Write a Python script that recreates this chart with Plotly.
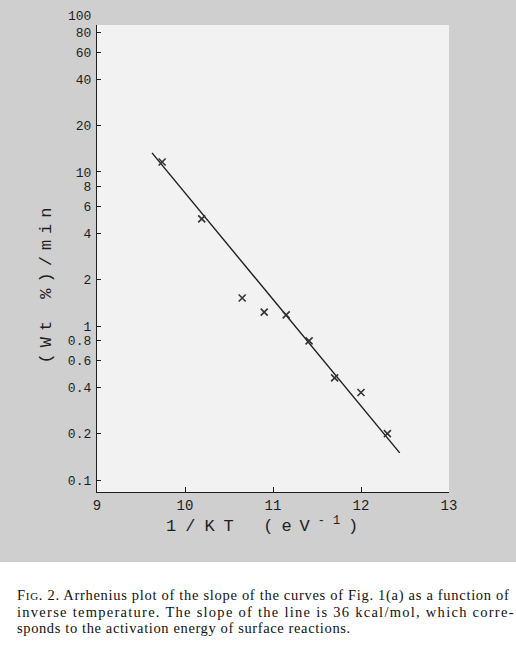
import plotly.graph_objects as go
import math

# ---- data ----
inv_kt = [9.74, 10.19, 10.65, 10.90, 11.15, 11.41, 11.70, 12.00, 12.30]
rate = [11.6, 4.96, 1.52, 1.23, 1.18, 0.80, 0.46, 0.37, 0.20]
fit_x = [9.625, 12.44]
fit_y = [13.3, 0.15]

y_tickvals = [0.1, 0.2, 0.4, 0.6, 0.8, 1, 2, 4, 6, 8, 10, 20, 40, 60, 80]
y_ticktext = ["0.1", "0.2", "0.4", "0.6", "0.8", "1", "2", "4", "6", "8", "10", "20", "40", "60", "80"]
x_tickvals = [9, 10, 11, 12, 13]
x_ticktext = ["9", "10", "11", "12", "13"]

caption_fig = "F"
caption_fig_sc = "IG"
caption_lines = [
    ". 2. Arrhenius plot of the slope of the curves of Fig. 1(a) as a function of",
    "inverse temperature. The slope of the line is 36 kcal/mol, which corre-",
    "sponds to the activation energy of surface reactions.",
]

W, H = 516, 649
L, R, T, B = 97, 449, 25, 492
pw, ph = R - L, B - T


def px(xp):
    return (xp - L) / pw


def py(yp):
    return (B - yp) / ph


ink = "#1e1e1e"
mono = "Liberation Mono"

fig = go.Figure()
fig.add_trace(go.Scatter(x=fit_x, y=fit_y, mode="lines",
                         line=dict(color=ink, width=1.4), hoverinfo="skip"))
fig.add_trace(go.Scatter(x=inv_kt, y=rate, mode="markers",
                         marker=dict(symbol="x-thin", size=7,
                                     line=dict(color="#333333", width=1.6))))

shapes = [
    dict(type="rect", xref="paper", yref="paper", x0=px(0), x1=px(W), y0=py(562), y1=py(0),
         fillcolor="#cfcfcf", line=dict(width=0), layer="below"),
    dict(type="rect", xref="paper", yref="paper", x0=0, x1=1, y0=0, y1=1,
         fillcolor="#f2f2f2", line=dict(width=0), layer="below"),
]

annotations = [
    dict(text="100", xref="paper", yref="paper", x=px(93), y=py(16), xanchor="right", yanchor="middle",
         showarrow=False, font=dict(family=mono, size=13, color=ink)),
    dict(text="<span style='letter-spacing:6px'>(Wt %)/min</span>", xref="paper", yref="paper",
         x=px(34), y=py(283), textangle=-90, showarrow=False,
         font=dict(family=mono, size=17, color=ink)),
    dict(text="<span style='letter-spacing:9px'>1/KT</span>  <span style='letter-spacing:8px'>(eV<sup>-1</sup>)</span>",
         xref="paper", yref="paper", x=px(266), y=py(538), showarrow=False,
         font=dict(family=mono, size=17, color=ink)),
]

spacings = [0.7, 1.27, 0.62]
for i, (line, yc, sp) in enumerate(zip(caption_lines, [595, 612, 628], spacings)):
    if i == 0:
        text = (f"<span style='letter-spacing:{sp}px'>{caption_fig}</span>"
                f"<span style='font-size:11px;letter-spacing:{sp}px'>{caption_fig_sc}</span>"
                f"<span style='letter-spacing:{sp}px'>{line}</span>")
    else:
        text = f"<span style='letter-spacing:{sp}px'>{line}</span>"
    annotations.append(dict(text=text, xref="paper", yref="paper", x=px(16), y=py(yc),
                            xanchor="left", yanchor="middle", showarrow=False, borderpad=0,
                            font=dict(family="Liberation Serif", size=14.5, color="#111111")))

fig.update_layout(
    width=W, height=H,
    margin=dict(l=L, r=W - R, t=T, b=H - B, pad=0),
    paper_bgcolor="white", plot_bgcolor="#f2f2f2",
    showlegend=False,
    shapes=shapes, annotations=annotations,
    xaxis=dict(range=[9, 13], tickvals=x_tickvals, ticktext=x_ticktext,
               showgrid=False, zeroline=False, showline=True, linecolor=ink, linewidth=1.3,
               ticks="inside", ticklen=5, tickcolor=ink,
               tickfont=dict(family=mono, size=14, color=ink)),
    yaxis=dict(type="log", range=[math.log10(0.0836), math.log10(90)],
               tickvals=y_tickvals, ticktext=y_ticktext,
               showgrid=False, zeroline=False, showline=True, linecolor=ink, linewidth=1.3,
               ticks="inside", ticklen=4, tickcolor=ink, ticklabelstandoff=2,
               tickfont=dict(family=mono, size=13, color=ink)),
)

fig.write_html("out.html", config={"displayModeBar": False},
               post_script="document.body.style.margin='0';document.body.style.overflow='hidden';")
